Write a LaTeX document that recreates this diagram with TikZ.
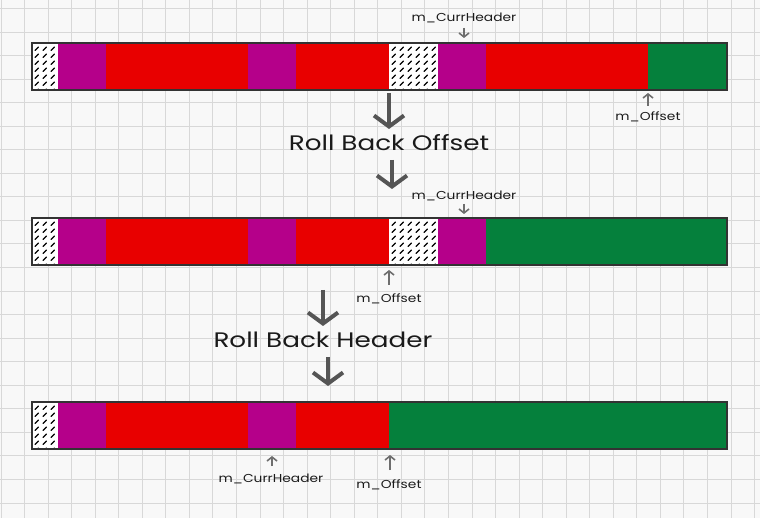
\documentclass[tikz,border=0pt]{standalone}
\usepackage{fontspec}
\setmainfont{Poppins}
\usetikzlibrary{arrows.meta}
\definecolor{purp}{HTML}{B5008A}
\definecolor{redc}{HTML}{E80000}
\definecolor{grn}{HTML}{05803C}
\definecolor{bord}{HTML}{333333}
\definecolor{gridc}{HTML}{D8D8D8}
\definecolor{paper}{HTML}{F8F8F8}
\definecolor{arrc}{HTML}{555555}
\definecolor{txt}{HTML}{1A1A1A}
\tikzset{
  gridline/.style={gridc, line width=1pt},
  barborder/.style={bord, line width=2.6pt},
  hatchline/.style={black, line width=1.2pt, line cap=round},
  bigarrow/.style={arrc, line width=4pt, -{Straight Barb[length=11pt,width=30pt,line width=4pt]}},
  smallarrow/.style={arrc!85, line width=1.6pt, -{Straight Barb[length=4pt,width=10pt,line width=1.6pt]}},
  biglabel/.style={txt, inner sep=0pt, font=\fontsize{21}{24}\selectfont},
  smalllabel/.style={txt, inner sep=0pt, font=\fontsize{11.5}{13}\selectfont},
}
\newcommand\wide[2]{\scalebox{#1}[1]{#2}}
\newcommand\hatchseg[3]{%
  \fill[white] (#1,#3) rectangle (#2,#3+47);
  \begin{scope}
    \clip (#1,#3) rectangle (#2,#3+47);
    \foreach \i in {0,...,8}{\foreach \j in {0,...,7}{
      \draw[hatchline] (#1+3+\i*8,#3+7.5+\j*7) -- ++(3.5,-3.5);}}
  \end{scope}}
\newcommand\seg[4]{\fill[#4] (#1,#3) rectangle (#2,#3+47);}
\begin{document}
\begin{tikzpicture}[x=1pt,y=-1pt]
\useasboundingbox (0,0) rectangle (760,518);
\fill[paper] (0,0) rectangle (760,518);
\foreach \k in {0,...,32}{\draw[gridline] ({1+\k*23.55},0) -- ++(0,518);}
\foreach \k in {0,...,22}{\draw[gridline] (0,{8.5+\k*23.55}) -- ++(760,0);}

% ---------- bar 1
\hatchseg{32}{58}{43}
\seg{58}{106}{43}{purp}
\seg{106}{248}{43}{redc}
\seg{248}{296}{43}{purp}
\seg{296}{389}{43}{redc}
\hatchseg{389}{438}{43}
\seg{438}{486}{43}{purp}
\seg{486}{648}{43}{redc}
\seg{648}{727}{43}{grn}
\draw[barborder] (32,43) rectangle (727,90);

% ---------- bar 2
\hatchseg{32}{58}{218}
\seg{58}{106}{218}{purp}
\seg{106}{248}{218}{redc}
\seg{248}{296}{218}{purp}
\seg{296}{389}{218}{redc}
\hatchseg{389}{438}{218}
\seg{438}{486}{218}{purp}
\seg{486}{727}{218}{grn}
\draw[barborder] (32,218) rectangle (727,265);

% ---------- bar 3
\hatchseg{32}{58}{402}
\seg{58}{106}{402}{purp}
\seg{106}{248}{402}{redc}
\seg{248}{296}{402}{purp}
\seg{296}{389}{402}{redc}
\seg{389}{727}{402}{grn}
\draw[barborder] (32,402) rectangle (727,449);

% ---------- labels
\node[smalllabel] (ch1) at (464,18) {\wide{1.2}{m\_CurrHeader}};
\coordinate (ch1s) at (464,28);
\coordinate (ch1t) at (464,38);
\draw[smallarrow] (ch1s) -- (ch1t);

\node[smalllabel] (of1) at (648,117) {\wide{1.2}{m\_Offset}};
\coordinate (of1s) at (648,106);
\coordinate (of1t) at (648,93);
\draw[smallarrow] (of1s) -- (of1t);

\node[smalllabel] (ch2) at (464,196) {\wide{1.2}{m\_CurrHeader}};
\coordinate (ch2s) at (464,204);
\coordinate (ch2t) at (464,214);
\draw[smallarrow] (ch2s) -- (ch2t);

\node[smalllabel] (of2) at (389,299) {\wide{1.2}{m\_Offset}};
\coordinate (of2s) at (389,285);
\coordinate (of2t) at (389,270);
\draw[smallarrow] (of2s) -- (of2t);

\node[smalllabel] (ch3) at (271,479) {\wide{1.2}{m\_CurrHeader}};
\coordinate (ch3s) at (272,466);
\coordinate (ch3t) at (272,456);
\draw[smallarrow] (ch3s) -- (ch3t);

\node[smalllabel] (of3) at (389,485) {\wide{1.2}{m\_Offset}};
\coordinate (of3s) at (390,470);
\coordinate (of3t) at (390,455);
\draw[smallarrow] (of3s) -- (of3t);

% ---------- big arrows and captions
\node[biglabel] (rbo) at (389,143) {\wide{1.25}{Roll Back Offset}};
\coordinate (a1s) at (389,93);
\coordinate (a1e) at (389,129);
\draw[bigarrow] (a1s) -- (a1e);
\coordinate (a2s) at (392,160);
\coordinate (a2e) at (392,189);
\draw[bigarrow] (a2s) -- (a2e);

\node[biglabel] (rbh) at (323,340) {\wide{1.25}{Roll Back Header}};
\coordinate (a3s) at (323,290);
\coordinate (a3e) at (323,326);
\draw[bigarrow] (a3s) -- (a3e);
\coordinate (a4s) at (328,357);
\coordinate (a4e) at (328,386);
\draw[bigarrow] (a4s) -- (a4e);
\end{tikzpicture}
\end{document}
